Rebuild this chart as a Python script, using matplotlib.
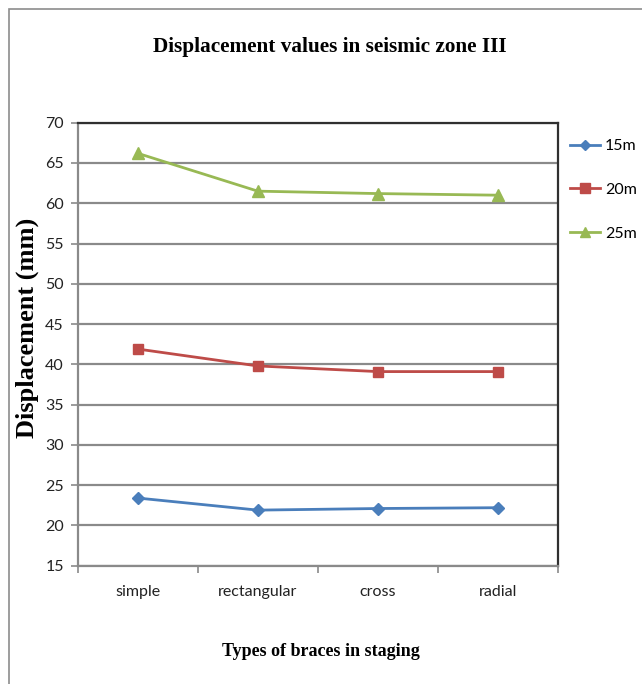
import matplotlib
matplotlib.use("Agg")
import matplotlib.pyplot as plt
from matplotlib.patches import Rectangle
from matplotlib.lines import Line2D

categories = ["simple", "rectangular", "cross", "radial"]
series_names = ["15m", "20m", "25m"]
disp_15m = [23.4, 21.9, 22.1, 22.2]
disp_20m = [41.9, 39.8, 39.1, 39.1]
disp_25m = [66.2, 61.5, 61.2, 61.0]
y_ticks = [15, 20, 25, 30, 35, 40, 45, 50, 55, 60, 65, 70]

colors = ["#4A7EBB", "#BE4B48", "#98B954"]
markers = ["D", "s", "^"]
msizes = [6.5, 7.5, 8]

fig = plt.figure(figsize=(6.42, 6.84), dpi=100)
fig.patch.set_facecolor("white")

# outer chart frame
fig.add_artist(Rectangle((9 / 642, -0.02), 1.2, 1 - 9 / 684 + 0.02,
                         transform=fig.transFigure, fill=False,
                         edgecolor="#8c8c8c", linewidth=1.2))

ax = fig.add_axes([77.7 / 642, 1 - 565.7 / 684, (558 - 77.7) / 642, (565.7 - 122.7) / 684])
x = list(range(len(categories)))
for vals, name, c, m, ms in zip([disp_15m, disp_20m, disp_25m], series_names, colors, markers, msizes):
    ax.plot(x, vals, color=c, marker=m, markersize=ms, linewidth=2, label=name,
            markeredgecolor=c, zorder=3)

ax.set_xlim(-0.5, len(categories) - 0.5)
ax.set_ylim(15, 70)
ax.set_yticks(y_ticks)
ax.yaxis.grid(True, color="#8a8a8a", linewidth=1.6)
ax.set_axisbelow(True)

ax.set_xticks([i + 0.5 for i in range(-1, len(categories))])
ax.set_xticklabels([])
ax.set_xticks(x, minor=True)
ax.set_xticklabels(categories, minor=True)
ax.tick_params(axis="x", which="minor", length=0, pad=14)
ax.tick_params(axis="x", which="major", length=5, color="#8a8a8a", width=1.2)
ax.tick_params(axis="y", length=5, color="#8a8a8a", width=1.2, pad=5)

for lab in ax.get_yticklabels() + ax.get_xticklabels(minor=True):
    lab.set_fontfamily("Lato")
    lab.set_fontsize(11.5)
    lab.set_color("#222222")

ax.spines["left"].set_color("#8a8a8a")
ax.spines["bottom"].set_color("#8a8a8a")
ax.spines["left"].set_linewidth(1.6)
ax.spines["bottom"].set_linewidth(1.6)
ax.spines["top"].set_color("#303030")
ax.spines["right"].set_color("#303030")
ax.spines["top"].set_linewidth(1.6)
ax.spines["right"].set_linewidth(1.6)

fig.text(330 / 642, 1 - 47 / 684, "Displacement values in seismic zone III",
         ha="center", va="center", family="Liberation Serif",
         fontweight="bold", fontsize=15.3)
fig.text(321 / 642, 1 - 651 / 684, "Types of braces in staging",
         ha="center", va="center", family="Liberation Serif",
         fontweight="bold", fontsize=13)
fig.text(27 / 642, 1 - 328 / 684, "Displacement (mm)", rotation=90,
         ha="center", va="center", family="Liberation Serif",
         fontweight="bold", fontsize=19)

handles = [Line2D([0], [0], color=c, marker=m, markersize=ms - 1, linewidth=2)
           for c, m, ms in zip(colors, markers, msizes)]
leg = fig.legend(handles, series_names, loc="upper left",
                 bbox_to_anchor=(570 / 642, 1 - 139 / 684), frameon=False,
                 borderpad=0, borderaxespad=0,
                 handlelength=1.9, handletextpad=0.3, labelspacing=1.85,
                 prop={"family": "Lato", "size": 11.5})

fig.savefig("out.png", dpi=100, facecolor="white")
